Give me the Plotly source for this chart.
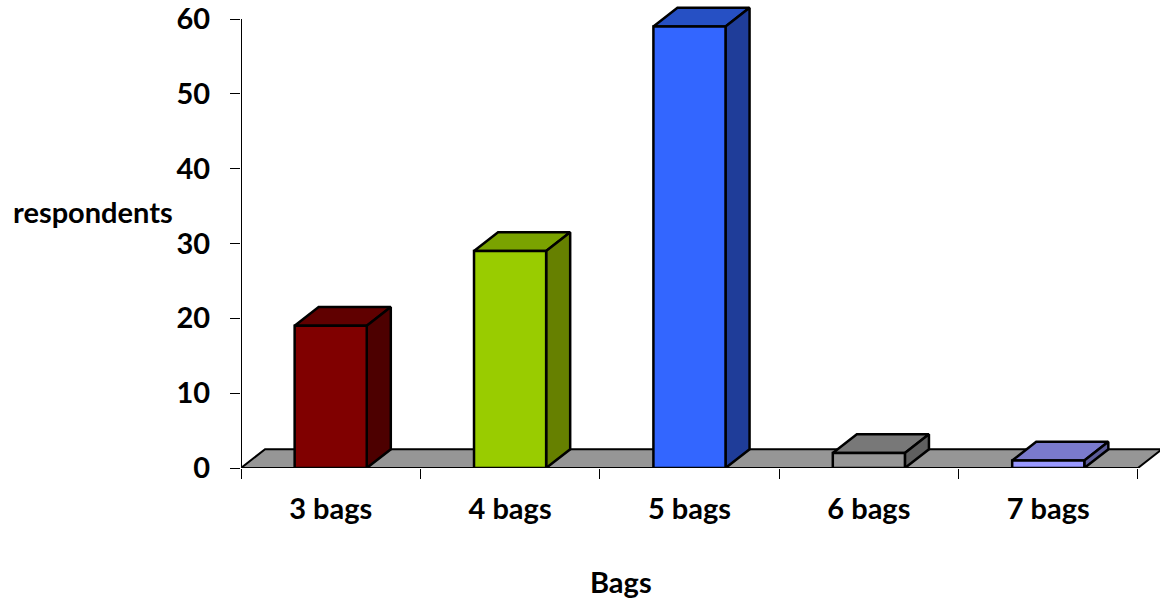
import plotly.graph_objects as go

categories = ["3 bags", "4 bags", "5 bags", "6 bags", "7 bags"]
respondents = [19, 29, 59, 2, 1]
front_colors = ["#800000", "#99CC00", "#3366FF", "#969696", "#9999FF"]
top_colors = ["#600000", "#7AA300", "#2650C4", "#787878", "#7A7ACC"]
side_colors = ["#4D0000", "#668000", "#1F3D99", "#5F5F5F", "#5C5C99"]
floor_color = "#969696"
y_ticks = [0, 10, 20, 30, 40, 50, 60]

W, H = 1160, 603
L, R, T, B = 241, 0, 0, 135
FONT = "Lato"
BAR_W = 0.402
DX = 0.134   # depth in category units
DY = 2.5     # depth in value units
X_RANGE = [-0.5, 4.623]
Y_RANGE = [0, 62.54]

fig = go.Figure()


def poly(xs, ys, color, lw=2.5):
    fig.add_trace(go.Scatter(
        x=xs, y=ys, mode="lines", fill="toself", fillcolor=color,
        line=dict(color="black", width=lw), cliponaxis=False,
        hoverinfo="skip", showlegend=False, xaxis="x", yaxis="y"))


# floor
poly([-0.5, -0.5 + DX, 4.5 + DX, 4.5, -0.5], [0, DY, DY, 0, 0], floor_color, lw=2)

# y axis line, stopping at the top tick
fig.add_trace(go.Scatter(
    x=[-0.5, -0.5], y=[y_ticks[0], y_ticks[-1]], mode="lines",
    line=dict(color="black", width=2), cliponaxis=False,
    hoverinfo="skip", showlegend=False, xaxis="x", yaxis="y"))

# top and side faces
for i, v in enumerate(respondents):
    x0, x1 = i - BAR_W / 2, i + BAR_W / 2
    poly([x0, x0 + DX, x1 + DX, x1, x0], [v, v + DY, v + DY, v, v], top_colors[i])
    poly([x1, x1 + DX, x1 + DX, x1, x1], [0, DY, v + DY, v, 0], side_colors[i])

# front faces
fig.add_trace(go.Bar(
    x=categories, y=respondents, width=BAR_W,
    marker=dict(color=front_colors, line=dict(color="black", width=2.5)),
    cliponaxis=False, showlegend=False, xaxis="x2", yaxis="y"))

fig.update_layout(
    width=W, height=H, autosize=False,
    margin=dict(l=L, r=R, t=T, b=B, autoexpand=False),
    paper_bgcolor="white", plot_bgcolor="white",
    font=dict(family=FONT, size=29, color="black"),
    showlegend=False,
    xaxis=dict(type="linear", range=X_RANGE, visible=False, fixedrange=True),
    xaxis2=dict(
        type="category", categoryorder="array", categoryarray=categories,
        overlaying="x", anchor="y", side="bottom", range=X_RANGE,
        tickson="boundaries", ticks="outside", ticklen=10, tickwidth=1, tickcolor="black",
        ticklabelstandoff=21,
        showline=False, showgrid=False, zeroline=False,
        tickfont=dict(family=FONT, size=29, color="black", weight="bold"),
    ),
    yaxis=dict(
        range=Y_RANGE, tickvals=y_ticks, ticks="outside", ticklen=10, tickwidth=1, tickcolor="black",
        ticklabelstandoff=14,
        showline=False, showgrid=False, zeroline=False,
        tickfont=dict(family=FONT, size=29, color="black", weight="bold"),
    ),
    annotations=[
        dict(text="<b>respondents</b>", xref="paper", yref="paper", x=(92.5 - L) / (W - L - R),
             y=(H - B - 212) / (H - T - B), showarrow=False, xanchor="center", yanchor="middle",
             font=dict(family=FONT, size=29, color="black")),
        dict(text="<b>Bags</b>", xref="paper", yref="paper", x=(621 - L) / (W - L - R),
             y=(H - B - 581) / (H - T - B), showarrow=False, xanchor="center", yanchor="middle",
             font=dict(family=FONT, size=29, color="black")),
    ],
)

fig.write_html("out.html", config={"displayModeBar": False},
               post_script="document.body.style.margin='0';")
